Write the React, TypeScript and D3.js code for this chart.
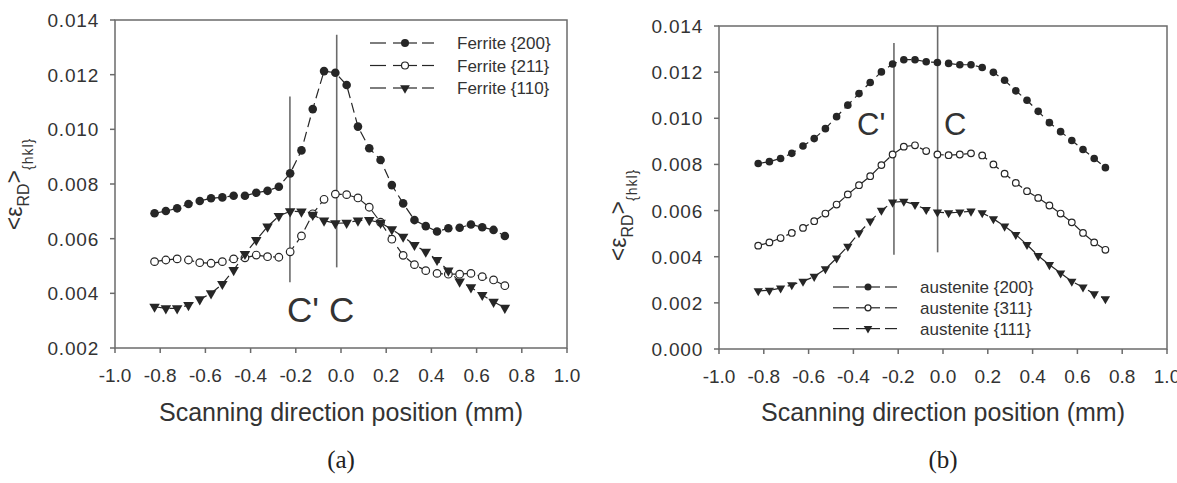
import React from 'react';
import * as d3 from 'd3';

// scanning positions (mm), shared by every series
const positions = [
  -0.825, -0.775, -0.725, -0.675, -0.625, -0.575, -0.525, -0.475, -0.425, -0.375, -0.325,
  -0.275, -0.225, -0.175, -0.125, -0.075, -0.025, 0.025, 0.075, 0.125, 0.175, 0.225,
  0.275, 0.325, 0.375, 0.425, 0.475, 0.525, 0.575, 0.625, 0.675, 0.725,
];

const ferrite200 = [
  0.00693, 0.00701, 0.00711, 0.00727, 0.00738, 0.00748, 0.00751, 0.00757, 0.00757, 0.00768, 0.00775,
  0.0079, 0.00839, 0.00923, 0.01074, 0.01213, 0.01207, 0.01162, 0.0101, 0.00931, 0.00888, 0.00796,
  0.00729, 0.00668, 0.00646, 0.00626, 0.00638, 0.0064, 0.00652, 0.00642, 0.00632, 0.0061,
];
const ferrite211 = [
  0.00516, 0.00522, 0.00526, 0.00522, 0.00512, 0.0051, 0.00516, 0.00526, 0.0053, 0.0054, 0.00534,
  0.00532, 0.00552, 0.0061, 0.00691, 0.00744, 0.00763, 0.00761, 0.00749, 0.00715, 0.0066, 0.00598,
  0.00539, 0.00505, 0.00483, 0.00473, 0.0047, 0.0047, 0.00473, 0.00461, 0.00449, 0.00428,
];
const ferrite110 = [
  0.00351, 0.00345, 0.00345, 0.00357, 0.00378, 0.004, 0.00434, 0.00485, 0.00544, 0.00595, 0.00644,
  0.00683, 0.007, 0.00699, 0.00687, 0.00666, 0.00656, 0.00658, 0.00666, 0.00668, 0.00658, 0.00634,
  0.00607, 0.00577, 0.00552, 0.00522, 0.00483, 0.00443, 0.00422, 0.00394, 0.00369, 0.00347,
];

const austenite200 = [
  0.00804, 0.00812, 0.00826, 0.00848, 0.0088, 0.00912, 0.00955, 0.01007, 0.01057, 0.01107, 0.01155,
  0.01201, 0.01235, 0.01254, 0.01254, 0.01245, 0.01242, 0.01238, 0.01232, 0.01232, 0.0122, 0.01199,
  0.01165, 0.01119, 0.01078, 0.0103, 0.00981, 0.00942, 0.00904, 0.00865, 0.00826, 0.00786,
];
const austenite311 = [
  0.00448, 0.00462, 0.00481, 0.00503, 0.00525, 0.00554, 0.00587, 0.00626, 0.0067, 0.0071, 0.00749,
  0.00797, 0.00843, 0.00877, 0.00883, 0.00858, 0.00843, 0.0084, 0.00843, 0.00848, 0.00839, 0.008,
  0.0076, 0.0072, 0.00684, 0.00655, 0.00622, 0.00587, 0.00549, 0.00503, 0.00462, 0.0043,
];
const austenite111 = [
  0.00252, 0.00254, 0.00264, 0.00278, 0.00293, 0.00314, 0.00347, 0.00394, 0.00445, 0.00503, 0.00554,
  0.00601, 0.00636, 0.0064, 0.00626, 0.00604, 0.00593, 0.0059, 0.00593, 0.00597, 0.0059, 0.00564,
  0.00532, 0.00496, 0.00452, 0.00404, 0.00365, 0.00329, 0.00293, 0.00268, 0.00239, 0.00217,
];

const xTicks = [-1.0, -0.8, -0.6, -0.4, -0.2, 0.0, 0.2, 0.4, 0.6, 0.8, 1.0];
const yTicksA = [0.002, 0.004, 0.006, 0.008, 0.01, 0.012, 0.014];
const yTicksB = [0.0, 0.002, 0.004, 0.006, 0.008, 0.01, 0.012, 0.014];

const legendA = ['Ferrite {200}', 'Ferrite {211}', 'Ferrite {110}'];
const legendB = ['austenite {200}', 'austenite {311}', 'austenite {111}'];

// C' / C reference positions: [x, yFrom, yTo]
const cutsA = [[-0.226, 0.0112, 0.00441], [-0.019, 0.01346, 0.00495]];
const cutsB = [[-0.219, 0.01326, 0.00409], [-0.024, 0.014, 0.00419]];

const INK = '#262626';
const AXIS = '#6b6b6b';
const SANS = 'Liberation Sans, Arial, sans-serif';

// plain hyphen for negatives, like the original plotting package
const fmtX = (t: number) => d3.format('.1f')(t).replace('\u2212', '-');
const fmtY = d3.format('.3f');

type Kind = 'filled' | 'open' | 'tri';

function Marker({ kind, x, y, r }: { kind: Kind; x: number; y: number; r: number }) {
  if (kind === 'tri') {
    const p = d3.symbol(d3.symbolTriangle, r * r * 2.6)();
    return <path d={p || ''} transform={`translate(${x},${y}) rotate(180)`} fill={INK} />;
  }
  if (kind === 'open') {
    return <circle cx={x} cy={y} r={r - 0.5} fill="#fff" stroke={INK} strokeWidth={1.2} />;
  }
  return <circle cx={x} cy={y} r={r} fill={INK} />;
}

function Panel(props: any) {
  const { left, right, top, bottom, yDomain, yTicks, series, legend, legendX, legendY, legendGap,
    cuts, cLabels, cSize, caption, yLabelY, r } = props;
  const x = d3.scaleLinear().domain([-1, 1]).range([left, right]);
  const y = d3.scaleLinear().domain(yDomain).range([bottom, top]);
  const line = d3.line<number>().x((_, i) => x(positions[i])).y((d) => y(d));
  const kinds: Kind[] = ['filled', 'open', 'tri'];
  const mid = (left + right) / 2;
  const labX = left - 93;

  return (
    <g>
      {/* frame */}
      <rect x={left} y={top} width={right - left} height={bottom - top} fill="none" stroke={AXIS} strokeWidth={1.5} />
      {xTicks.map((t) => (
        <g key={'x' + t}>
          <line x1={x(t)} x2={x(t)} y1={bottom} y2={bottom + 5} stroke={AXIS} strokeWidth={1.5} />
          <text x={x(t)} y={bottom + 34} textAnchor="middle" fontSize={19} fill="#333" fontFamily={SANS}>
            {fmtX(t)}
          </text>
        </g>
      ))}
      {yTicks.map((t: number) => (
        <g key={'y' + t}>
          <line x1={left - 5} x2={left} y1={y(t)} y2={y(t)} stroke={AXIS} strokeWidth={1.5} />
          <text x={left - 16} y={y(t) + 7} textAnchor="end" fontSize={19} letterSpacing={0.8} fill="#333" fontFamily={SANS}>
            {fmtY(t)}
          </text>
        </g>
      ))}

      {/* C' and C positions */}
      {cuts.map((c: number[], i: number) => (
        <line key={'c' + i} x1={x(c[0])} x2={x(c[0])} y1={y(c[1])} y2={y(c[2])} stroke={AXIS} strokeWidth={1.6} />
      ))}
      {cLabels.map((c: any, i: number) => (
        <text key={'cl' + i} x={c.x} y={c.y} fontSize={cSize} fill="#333" fontFamily={SANS}>{c.t}</text>
      ))}

      {series.map((s: number[], k: number) => (
        <g key={'s' + k}>
          <path d={line(s) || ''} fill="none" stroke={INK} strokeWidth={1.2} strokeDasharray="10,5" />
          {s.map((v, i) => (
            <Marker key={i} kind={kinds[k]} x={x(positions[i])} y={y(v)} r={r} />
          ))}
        </g>
      ))}

      {/* legend */}
      {legend.map((name: string, k: number) => {
        const ly = legendY + k * legendGap;
        return (
          <g key={'l' + k}>
            <line x1={legendX} x2={legendX + 16} y1={ly} y2={ly} stroke={INK} strokeWidth={1.2} />
            <line x1={legendX + 23} x2={legendX + 47} y1={ly} y2={ly} stroke={INK} strokeWidth={1.2} />
            <line x1={legendX + 52} x2={legendX + 64} y1={ly} y2={ly} stroke={INK} strokeWidth={1.2} />
            <Marker kind={kinds[k]} x={legendX + 35} y={ly} r={r - 0.3} />
            <text x={legendX + 87} y={ly + 6} fontSize={17} fill="#333" fontFamily={SANS}>{name}</text>
          </g>
        );
      })}

      {/* axis titles */}
      <text x={mid} y={421} textAnchor="middle" fontSize={25} fill="#333" fontFamily={SANS}>
        Scanning direction position (mm)
      </text>
      <text x={mid} y={468} textAnchor="middle" fontSize={25} fill="#222" fontFamily="Liberation Serif, Times New Roman, serif">
        {caption}
      </text>
      <text transform={`translate(${labX},${yLabelY}) rotate(-90)`} textAnchor="middle" fill="#333" fontFamily={SANS} fontSize={23}>
        <tspan>&lt;ε</tspan>
        <tspan fontSize={16} dy={7}>RD</tspan>
        <tspan dy={-7}>&gt;</tspan>
        <tspan fontSize={14} dy={11} letterSpacing={1}>{'{hkl}'}</tspan>
      </text>
    </g>
  );
}

export default function App() {
  return (
    <svg width={1177} height={483} style={{ position: 'absolute', left: 0, top: 0, background: '#fff' }}>
      <Panel
        left={115} right={567} top={20} bottom={348}
        yDomain={[0.002, 0.014]} yTicks={yTicksA}
        series={[ferrite200, ferrite211, ferrite110]}
        legend={legendA} legendX={370} legendY={43} legendGap={22.5}
        cuts={cutsA}
        cLabels={[{ t: "C'", x: 287, y: 322 }, { t: 'C', x: 329, y: 322 }]} cSize={35}
        caption="(a)" yLabelY={184} r={4.3}
      />
      <Panel
        left={719} right={1167} top={26} bottom={349}
        yDomain={[0.0, 0.014]} yTicks={yTicksB}
        series={[austenite200, austenite311, austenite111]}
        legend={legendB} legendX={833} legendY={287} legendGap={20.8}
        cuts={cutsB}
        cLabels={[{ t: "C'", x: 857, y: 135 }, { t: 'C', x: 944, y: 135 }]} cSize={31}
        caption="(b)" yLabelY={215} r={3.8}
      />
    </svg>
  );
}
